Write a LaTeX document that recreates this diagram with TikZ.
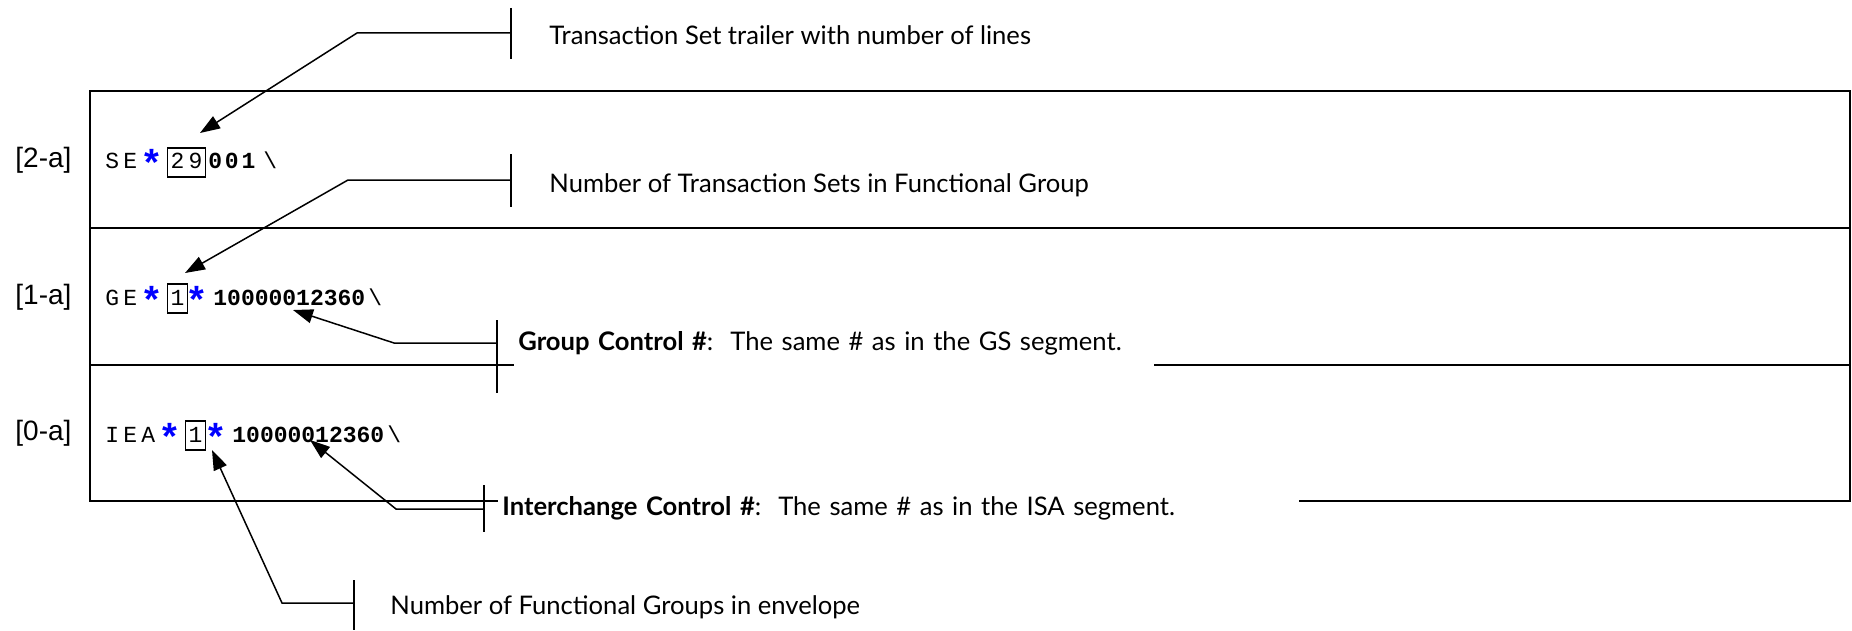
\documentclass[tikz,border=0pt]{standalone}
\usepackage{fontspec}
\setmainfont{Liberation Sans}
\newfontfamily\notefont{Lato}
\newfontfamily\codefont{Liberation Mono}
\usepackage{tikz}
\usetikzlibrary{arrows.meta,calc}
\definecolor{ink}{HTML}{000000}
\definecolor{starblue}{HTML}{0000FF}
\tikzset{
  frame/.style={draw=ink,line width=1pt},
  tag/.style={font=\fontsize{14}{16}\selectfont,anchor=west,inner sep=0pt},
  code/.style={font=\codefont\fontsize{11.5}{12}\selectfont,anchor=base west,inner sep=0pt},
  num/.style={code,font=\codefont\bfseries\fontsize{11.5}{12}\selectfont},
  star/.style={font=\bfseries\fontsize{19}{19}\selectfont,text=starblue,anchor=base west,inner sep=0pt,yshift=-3.5pt},
  valbox/.style={code,draw=ink,line width=0.6pt,inner xsep=1.5pt,inner ysep=0pt,text height=10.5pt,text depth=4pt},
  note/.style={font=\notefont\fontsize{12.8}{14}\selectfont,anchor=west,inner sep=0pt},
  notebox/.style={note,fill=white,inner xsep=2pt,align=left,minimum height=25pt},
  lead/.style={draw=ink,line width=0.75pt},
  arr/.style={lead,-{Triangle[length=10pt,width=7pt]}}}
\begin{document}
\begin{tikzpicture}[x=0.5pt,y=-0.5pt]
\useasboundingbox (0,0) rectangle (1852,631);
% envelope frame
\draw[frame] (90,91) rectangle (1850,501);
\draw[frame] (90,228) -- (1850,228);
\draw[frame] (90,365) -- (1850,365);
% row tags
\node[tag] (tag2) at (15,160) {[2-a]};
\node[tag] (tag1) at (15,297) {[1-a]};
\node[tag] (tag0) at (15,433) {[0-a]};
% SE segment
\node[code] (sehead) at (105,169) {S\hspace{2.1pt}E};
\node[star] (sestar) at (144,169) {*};
\node[valbox] (se29) at (167,169) {2\hspace{2.1pt}9};
\node[num] (sectl) at (208,169) {0\hspace{1.4pt}0\hspace{1.4pt}1};
\node[code] (seend) at (263,169) {\textbackslash};
% GE segment
\node[code] (gehead) at (105,305) {G\hspace{2.1pt}E};
\node[star] (gestara) at (144,305) {*};
\node[valbox] (ge1) at (167,305) {1};
\node[star] (gestarb) at (189,305) {*};
\node[num] (gectl) at (213,305) {10000012360};
\node[code] (geend) at (368,305) {\textbackslash};
% IEA segment
\node[code] (ieahead) at (105,442) {I\hspace{2.1pt}E\hspace{2.1pt}A};
\node[star] (ieastara) at (162,442) {*};
\node[valbox] (iea1) at (185,442) {1};
\node[star] (ieastarb) at (208,442) {*};
\node[num] (ieactl) at (232,442) {10000012360};
\node[code] (ieaend) at (387,442) {\textbackslash};
% notes
\node[note] (trlnote) at (549,35) {Transaction Set trailer with number of lines};
\node[note] (setnote) at (549,185) {Number of Transaction Sets in Functional Group};
\node[notebox,text width=316pt] (gcnote) at (514,343) {\textbf{Group Control \#}:\ \ The same \# as in the GS segment.};
\node[notebox,text width=396.5pt] (icnote) at (498,508) {\textbf{Interchange Control \#}:\ \ The same \# as in the ISA segment.};
\node[note] (fgnote) at (390,607) {Number of Functional Groups in envelope};
% callout bars and bends
\coordinate (trlbar) at (511,33);  \coordinate (trlbend) at (357,33);  \coordinate (trltip) at (200,133);
\coordinate (setbar) at (511,180); \coordinate (setbend) at (348,180); \coordinate (settip) at (185,273);
\coordinate (gcbar) at (497,343);  \coordinate (gcbend) at (394,343);  \coordinate (gctip) at (293,310);
\coordinate (icbar) at (484,509);  \coordinate (icbend) at (396,509);  \coordinate (ictip) at (310,440);
\coordinate (fgbar) at (354,603);  \coordinate (fgbend) at (282,603);  \coordinate (fgtip) at (212,450);
\draw[lead] ($(trlbar)+(0,-25)$) -- ($(trlbar)+(0,26)$);
\draw[lead] ($(setbar)+(0,-26)$) -- ($(setbar)+(0,27)$);
\draw[lead] ($(gcbar)+(0,-23)$) -- ($(gcbar)+(0,50)$);
\draw[lead] ($(icbar)+(0,-24)$) -- ($(icbar)+(0,23)$);
\draw[lead] ($(fgbar)+(0,-23)$) -- ($(fgbar)+(0,27)$);
\draw[arr] (trlbar) -- (trlbend) -- (trltip);
\draw[arr] (setbar) -- (setbend) -- (settip);
\draw[arr] (gcbar) -- (gcbend) -- (gctip);
\draw[arr] (icbar) -- (icbend) -- (ictip);
\draw[arr] (fgbar) -- (fgbend) -- (fgtip);
\end{tikzpicture}
\end{document}
